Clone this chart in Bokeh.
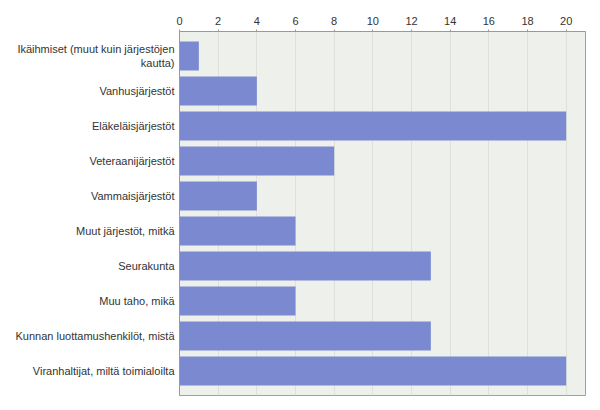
from bokeh.plotting import figure
from bokeh.models import Range1d, FactorRange, SingleIntervalTicker, ColumnDataSource
from bokeh.embed import file_html
from bokeh.resources import INLINE

categories = [
    "Ikäihmiset (muut kuin järjestöjen\nkautta)",
    "Vanhusjärjestöt",
    "Eläkeläisjärjestöt",
    "Veteraanijärjestöt",
    "Vammaisjärjestöt",
    "Muut järjestöt, mitkä",
    "Seurakunta",
    "Muu taho, mikä",
    "Kunnan luottamushenkilöt, mistä",
    "Viranhaltijat, miltä toimialoilta",
]
values = [1, 4, 20, 8, 4, 6, 13, 6, 13, 20]

src = ColumnDataSource(dict(cat=categories, val=values))

p = figure(
    width=592, height=402,
    y_range=FactorRange(factors=list(reversed(categories)), range_padding=0.2,
                        range_padding_units="absolute"),
    x_range=Range1d(0, 21),
    x_axis_location="above",
    output_backend="svg", toolbar_location=None,
    min_border_left=179, min_border_right=7, min_border_top=31, min_border_bottom=7,
)
p.background_fill_color = "#eef1eb"
p.border_fill_color = "white"
p.outline_line_color = "#a0a0a0"
p.outline_line_width = 1

p.hbar(y="cat", right="val", left=0, height=0.83, source=src,
       fill_color="#7a89d0", line_color="#7a89d0", line_width=0)

p.xaxis.ticker = SingleIntervalTicker(interval=2)
p.xaxis.axis_line_color = "#999999"
p.xaxis.major_tick_line_color = "#999999"
p.xaxis.major_tick_out = 2
p.xaxis.major_tick_in = 0
p.xaxis.minor_tick_line_color = None
p.xaxis.major_label_text_font = "Liberation Sans"
p.xaxis.major_label_text_font_size = "11px"
p.xaxis.major_label_text_color = "#333333"
p.xaxis.major_label_standoff = 3

p.yaxis.axis_line_color = "#999999"
p.yaxis.major_tick_line_color = None
p.yaxis.minor_tick_line_color = None
p.yaxis.major_tick_out = 0
p.yaxis.major_label_text_font = "Liberation Sans"
p.yaxis.major_label_text_font_size = "11px"
p.yaxis.major_label_text_color = "#333333"
p.yaxis.major_label_standoff = 5

p.xgrid.grid_line_color = "#dde1da"
p.ygrid.grid_line_color = None

open("out.html", "w").write(file_html(p, INLINE))
